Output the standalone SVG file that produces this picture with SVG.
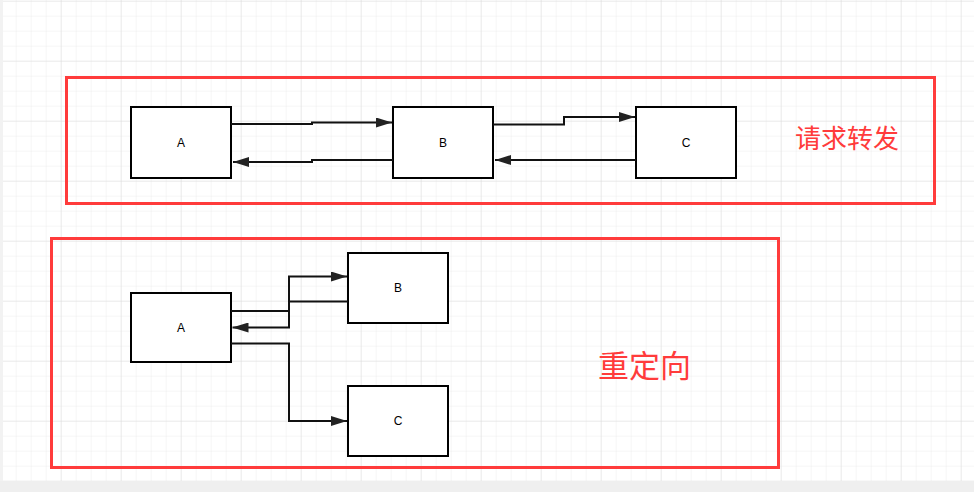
<svg xmlns="http://www.w3.org/2000/svg" width="974" height="492" viewBox="0 0 974 492">
<defs>
<pattern id="minor" x="1.7" y="1.7" width="15" height="15" patternUnits="userSpaceOnUse">
<path d="M15 0V15M0 15H15" fill="none" stroke="#ececec" stroke-width="1"/>
</pattern>
<pattern id="major" x="1.7" y="1.7" width="60" height="60" patternUnits="userSpaceOnUse">
<path d="M60 0V60M0 60H60" fill="none" stroke="#dedede" stroke-width="1"/>
</pattern>
<marker id="ah" viewBox="0 0 16 10" refX="16" refY="5" markerWidth="16" markerHeight="10" markerUnits="userSpaceOnUse" orient="auto">
<path d="M0 0L16 5L0 10Z" fill="#222"/>
</marker>
</defs>
<style>
.box{fill:#fff;stroke:#000;stroke-width:2}
.lbl{font-family:"Liberation Sans",Arial,sans-serif;font-size:12px;fill:#000;text-anchor:middle}
.frame{fill:none;stroke:#ff3b3b;stroke-width:3}
.cn{font-family:"Noto Sans CJK SC",sans-serif;fill:#ff3b3b}
.edge{fill:none;stroke:#111;stroke-width:2;marker-end:url(#ah)}
</style>
<rect width="974" height="492" fill="#fff"/>
<rect width="974" height="492" fill="url(#minor)"/>
<rect width="974" height="492" fill="url(#major)"/>
<rect x="0" y="0" width="3" height="492" fill="#f2f2f2"/>
<rect x="0" y="481" width="974" height="11" fill="#efefef"/>
<g id="frame-forward">
<rect class="frame" x="66.5" y="77.5" width="868" height="126"/>
<text class="cn" x="795" y="148" font-size="26">请求转发</text>
</g>
<g id="frame-redirect">
<rect class="frame" x="51.5" y="238.5" width="727" height="229"/>
<text class="cn" x="598" y="377" font-size="31">重定向</text>
</g>
<g id="t-A"><rect class="box" x="131" y="107" width="100" height="71"/><text class="lbl" x="181" y="147">A</text></g>
<g id="t-B"><rect class="box" x="393" y="107" width="100" height="71"/><text class="lbl" x="443" y="147">B</text></g>
<g id="t-C"><rect class="box" x="636" y="107" width="100" height="71"/><text class="lbl" x="686" y="147">C</text></g>
<g id="b-A"><rect class="box" x="131" y="293" width="100" height="69"/><text class="lbl" x="181" y="332">A</text></g>
<g id="b-B"><rect class="box" x="348" y="253" width="100" height="70"/><text class="lbl" x="398" y="292">B</text></g>
<g id="b-C"><rect class="box" x="348" y="386" width="100" height="70"/><text class="lbl" x="398" y="425">C</text></g>
<g id="connectors">
<path class="edge" d="M231 124H312V122.5H392"/>
<path class="edge" d="M393 160H312V162H233"/>
<path class="edge" d="M493 124.5H564V117H635"/>
<path class="edge" d="M636 160H495"/>
<path class="edge" d="M231 311H289V276.5H347"/>
<path class="edge" d="M348 301.5H289V327.5H232.5"/>
<path class="edge" d="M231 343.5H289V421H347"/>
</g>
</svg>
